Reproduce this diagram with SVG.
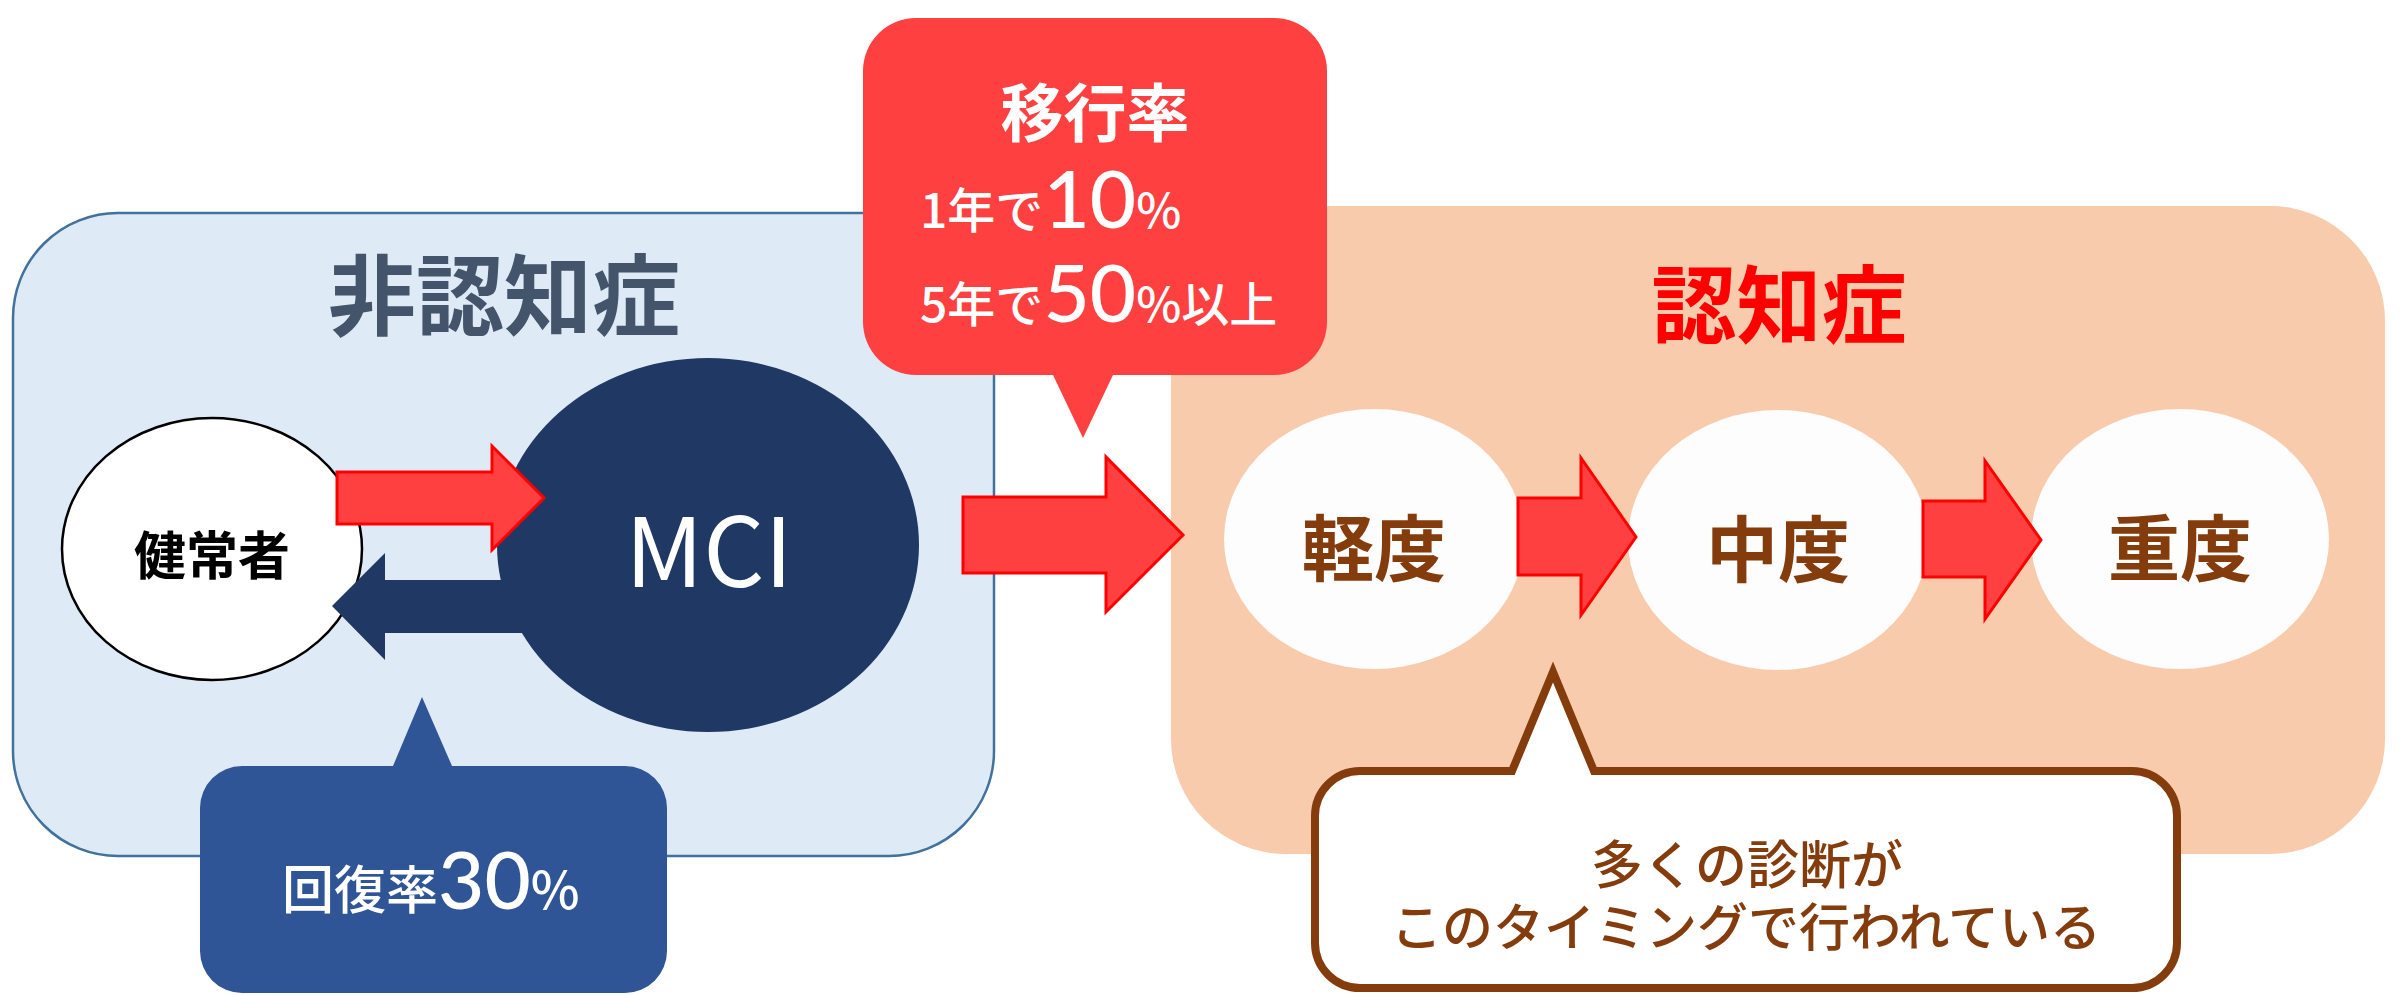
<svg xmlns="http://www.w3.org/2000/svg" width="2405" height="995" viewBox="0 0 2405 995">
<style>
.jp{font-family:"Noto Sans CJK JP","Noto Sans",sans-serif;}
.num{font-family:Lato,"Noto Sans",sans-serif;}
.b{font-weight:bold;}
.m{font-weight:500;}
.redarrow{fill:#FF4040;stroke:#FF0000;stroke-width:3;stroke-linejoin:miter;}
.brown{fill:#843C0C;}
.white{fill:#FFFFFF;}
.stage{fill:#FDFDFD;}
</style>
<rect width="2405" height="995" fill="#FFFFFF"/>
<g id="group-non-dementia">
<rect x="13" y="213" width="981" height="643" rx="105" ry="105" fill="#DEEBF7" stroke="#41719C" stroke-width="2.5"/>
<text class="jp b" x="504" y="328" font-size="88" fill="#44546A" text-anchor="middle">非認知症</text>
</g>
<g id="group-dementia">
<rect x="1171" y="206" width="1214" height="648" rx="115" ry="115" fill="#F8CBAD"/>
<text class="jp b" x="1779" y="337" font-size="85" fill="#FF0000" text-anchor="middle">認知症</text>
</g>
<g id="node-healthy">
<ellipse cx="212" cy="549" rx="150" ry="131" fill="#FFFFFF" stroke="#000000" stroke-width="2.5"/>
<text class="jp b" x="212" y="575" font-size="52" fill="#000000" text-anchor="middle">健常者</text>
</g>
<g id="node-mci">
<ellipse cx="708" cy="545" rx="211" ry="187" fill="#203864"/>
<text class="jp" x="709" y="587" font-size="96" fill="#FFFFFF" text-anchor="middle">MCI</text>
</g>
<g id="node-mild">
<ellipse class="stage" cx="1374" cy="539" rx="150" ry="130"/>
<text class="jp b brown" x="1374" y="575" font-size="72" text-anchor="middle">軽度</text>
</g>
<g id="node-moderate">
<ellipse class="stage" cx="1778" cy="540" rx="150" ry="130"/>
<text class="jp b brown" x="1778" y="576" font-size="72" text-anchor="middle">中度</text>
</g>
<g id="node-severe">
<ellipse class="stage" cx="2180" cy="539" rx="149" ry="130"/>
<text class="jp b brown" x="2180" y="575" font-size="72" text-anchor="middle">重度</text>
</g>
<g id="connectors">
<polygon class="redarrow" points="337,472 492,472 492,446 544,498 492,550 492,524 337,524"/>
<polygon fill="#203864" points="523,580 385,580 385,553 332,606 385,660 385,633 523,633"/>
<polygon class="redarrow" points="963,497 1106,497 1106,457 1183,535 1106,612 1106,573 963,573"/>
<polygon class="redarrow" points="1518,498 1581,498 1581,458 1636,537 1581,615 1581,575 1518,575"/>
<polygon class="redarrow" points="1923,501 1985,501 1985,461 2041,540 1985,619 1985,577 1923,577"/>
</g>
<g id="callout-transition">
<path d="M 916,18 H 1274 A 53 53 0 0 1 1327 71 V 322 A 53 53 0 0 1 1274 375 H 1113 L 1083 438 L 1053 375 H 916 A 53 53 0 0 1 863 322 V 71 A 53 53 0 0 1 916 18 Z" fill="#FF4040"/>
<text class="jp b white" x="1095" y="136" font-size="63" text-anchor="middle">移行率</text>
<text class="jp m white" x="920" y="228" font-size="48"><tspan>1年で</tspan><tspan class="num" font-size="80">10</tspan><tspan>%</tspan></text>
<text class="jp m white" x="920" y="322" font-size="48"><tspan>5年で</tspan><tspan class="num" font-size="80">50</tspan><tspan>%以上</tspan></text>
</g>
<g id="callout-recovery">
<path d="M 242,766 H 393 L 422 697 L 452 766 H 625 A 42 42 0 0 1 667 808 V 951 A 42 42 0 0 1 625 993 H 242 A 42 42 0 0 1 200 951 V 808 A 42 42 0 0 1 242 766 Z" fill="#2F5597"/>
<text class="jp m white" x="282" y="909" font-size="52"><tspan>回復率</tspan><tspan class="num" font-size="80">30</tspan><tspan>%</tspan></text>
</g>
<g id="callout-diagnosis">
<path d="M 1360,771 H 1512 L 1553 672 L 1594 771 H 2132 A 45 45 0 0 1 2177 816 V 943 A 45 45 0 0 1 2132 988 H 1360 A 45 45 0 0 1 1315 943 V 816 A 45 45 0 0 1 1360 771 Z" fill="#FFFFFF" stroke="#843C0C" stroke-width="8" stroke-linejoin="miter" stroke-miterlimit="10"/>
<text class="jp m brown" x="1747" y="884" font-size="52" text-anchor="middle">多くの診断が</text>
<text class="jp m brown" x="1746" y="946" font-size="51" text-anchor="middle">このタイミングで行われている</text>
</g>
</svg>
